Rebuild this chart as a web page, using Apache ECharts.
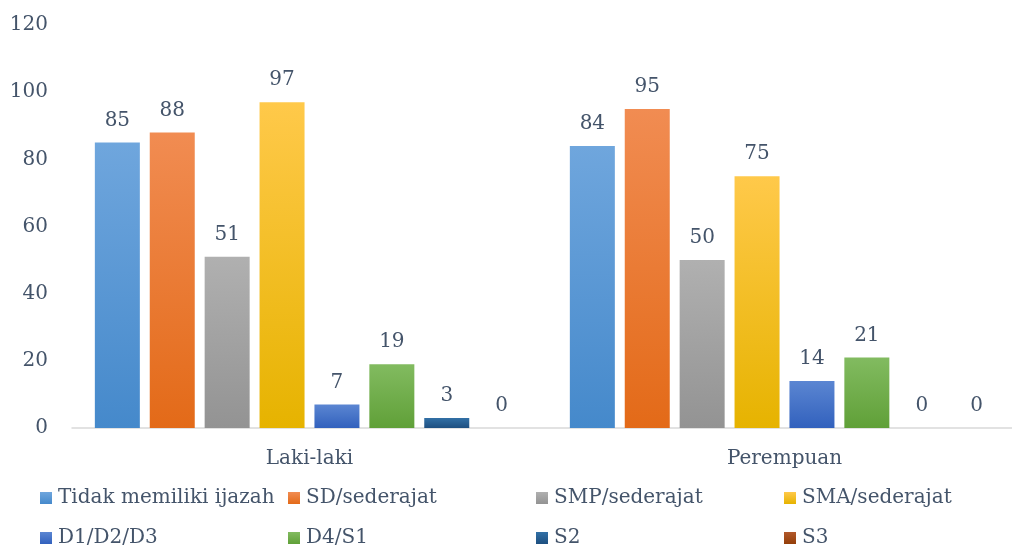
<!DOCTYPE html>
<html>
<head>
<meta charset="utf-8">
<script src="https://cdn.jsdelivr.net/npm/echarts@6/dist/echarts.min.js"></script>
<style>
  html, body { margin: 0; padding: 0; background: #fff; }
  #chart { width: 1012px; height: 548px; }
</style>
</head>
<body>
<div id="chart"></div>
<script>
// kategori jenis kelamin
const categories = ['Laki-laki', 'Perempuan']

// tingkat pendidikan
const seriesNames = ['Tidak memiliki ijazah', 'SD/sederajat', 'SMP/sederajat', 'SMA/sederajat', 'D1/D2/D3', 'D4/S1', 'S2', 'S3']

// nilai per tingkat pendidikan [Laki-laki, Perempuan]
const tidakIjazah = [85, 84]
const sd = [88, 95]
const smp = [51, 50]
const sma = [97, 75]
const diploma = [7, 14]
const d4s1 = [19, 21]
const s2 = [3, 0]
const s3 = [0, 0]

const yTicks = [0, 20, 40, 60, 80, 100, 120]

const values = [tidakIjazah, sd, smp, sma, diploma, d4s1, s2, s3]

// warna gradien [atas, bawah]
const colors = [
  ['#6fa6dd', '#4589cb'],
  ['#f18c52', '#e36a18'],
  ['#b0b0b0', '#939393'],
  ['#ffc94a', '#e6b300'],
  ['#5b86d2', '#3261bd'],
  ['#82bb60', '#60a038'],
  ['#3270a6', '#1e4f80'],
  ['#b2582b', '#943f09']
]

const textColor = '#44546a'
const fontFamily = '"DejaVu Serif", serif'
const fontSize = 20

const grad = (c) => new echarts.graphic.LinearGradient(0, 0, 0, 1, [
  { offset: 0, color: c[0] },
  { offset: 1, color: c[1] }
])

const legendCols = [40, 288, 536, 784]

const option = {
  animation: false,
  textStyle: { fontFamily: fontFamily },
  grid: { left: 72, width: 950, top: 25, bottom: 120, outerBoundsMode: 'none' },
  // legenda: 4 kolom, 2 baris
  legend: legendCols.map((x, i) => ({
    orient: 'vertical',
    left: x,
    top: 488,
    height: 120,
    padding: 0,
    itemWidth: 12,
    itemHeight: 12,
    itemGap: 20,
    icon: 'rect',
    textStyle: { color: textColor, fontSize: fontSize, fontFamily: fontFamily, padding: [0, 0, 0, 1] },
    data: [seriesNames[i], seriesNames[i + 4]]
  })),
  xAxis: {
    type: 'category',
    data: categories,
    axisTick: { show: false },
    axisLine: { lineStyle: { color: '#d9d9d9', width: 1.5 } },
    axisLabel: { color: textColor, fontSize: fontSize, margin: 21, fontFamily: fontFamily }
  },
  yAxis: {
    type: 'value',
    min: 0,
    max: yTicks[yTicks.length - 1],
    interval: 20,
    splitLine: { show: false },
    axisLine: { show: false },
    axisTick: { show: false },
    axisLabel: { color: textColor, fontSize: fontSize, margin: 24, fontFamily: fontFamily }
  },
  series: seriesNames.map((name, i) => ({
    name: name,
    type: 'bar',
    data: values[i],
    barWidth: 45,
    barGap: '22%',
    itemStyle: { color: grad(colors[i]) },
    label: {
      show: true,
      position: 'top',
      distance: 12,
      color: textColor,
      fontSize: fontSize,
      fontFamily: fontFamily
    }
  }))
}

const myChart = echarts.init(document.getElementById('chart'))
myChart.setOption(option)
</script>
</body>
</html>
